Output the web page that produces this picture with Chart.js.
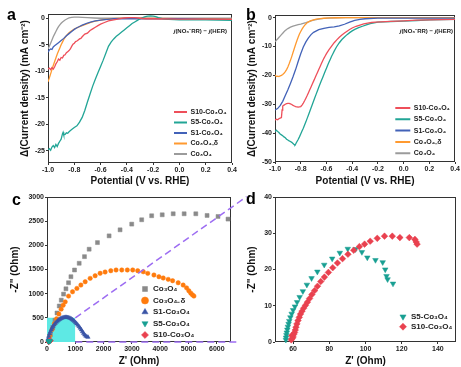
<!DOCTYPE html>
<html><head><meta charset="utf-8">
<script src="https://cdn.jsdelivr.net/npm/chart.js@4.4.1/dist/chart.umd.min.js"></script>
<style>
html,body{margin:0;padding:0;background:#fff;}
#wrap{position:relative;width:461px;height:367px;overflow:hidden;font-family:Arial,"Liberation Sans",sans-serif;}
.pan{position:absolute;}
.lbl{position:absolute;font-weight:bold;font-size:16px;line-height:16px;color:#000;}
.ann{position:absolute;font-weight:bold;font-size:6px;line-height:6px;color:#222;white-space:nowrap;text-align:right;}
</style></head><body>
<div id="wrap">
  <div class="pan" style="left:0;top:190px;width:250px;height:177px"><canvas id="cc"></canvas></div>
  <div class="pan" style="left:228px;top:190px;width:233px;height:177px"><canvas id="cd"></canvas></div>
  <div class="pan" style="left:0;top:0;width:242px;height:190px"><canvas id="ca"></canvas></div>
  <div class="pan" style="left:228px;top:0;width:233px;height:190px"><canvas id="cb"></canvas></div>
  <div class="lbl" style="left:7px;top:7px">a</div>
  <div class="lbl" style="left:246px;top:7px">b</div>
  <div class="lbl" style="left:12px;top:192px">c</div>
  <div class="lbl" style="left:246px;top:191px">d</div>
  <div class="ann" style="right:234px;top:28px"><i>j</i>(NO₃⁻RR) − <i>j</i>(HER)</div>
  <div class="ann" style="right:8px;top:28px"><i>j</i>(NO₃⁻RR) − <i>j</i>(HER)</div>
</div>
<script>
// ---------------- DATA ----------------
const potentialTicks = [-1.0, -0.8, -0.6, -0.4, -0.2, 0.0, 0.2, 0.4];
const aYTicks = [-25, -20, -15, -10, -5, 0];
const bYTicks = [-50, -40, -30, -20, -10, 0];
const cXTicks = [0, 1000, 2000, 3000, 4000, 5000, 6000];
const cYTicks = [0, 500, 1000, 1500, 2000, 2500, 3000];
const dXTicks = [60, 80, 100, 120, 140];
const dYTicks = [0, 10, 20, 30, 40];

const seriesNames = ['S10-Co₃O₄', 'S5-Co₃O₄', 'S1-Co₃O₄', 'Co₃O₄₋δ', 'Co₃O₄'];

// panel a: [potential, delta current density]
const aS10 = [[-1.00,-9.6],[-0.99,-9.4],[-0.98,-9.7],[-0.97,-9.3],[-0.96,-9.6],[-0.95,-9.2],[-0.94,-8.6],[-0.93,-8.2],[-0.92,-7.7],[-0.91,-7.9],[-0.90,-7.4],[-0.89,-7.5],[-0.88,-7.0],[-0.87,-6.9],[-0.86,-6.5],[-0.85,-6.3],[-0.84,-6.1],[-0.83,-5.8],[-0.82,-5.3],[-0.81,-4.9],[-0.80,-4.7],[-0.79,-4.4],[-0.78,-4.3],[-0.77,-4.1],[-0.76,-3.9],[-0.75,-3.8],[-0.74,-3.5],[-0.72,-3.0],[-0.70,-2.8],[-0.68,-2.3],[-0.66,-2.0],[-0.64,-1.7],[-0.62,-1.4],[-0.60,-1.1],[-0.57,-0.8],[-0.54,-0.5],[-0.50,-0.3],[-0.46,-0.1],[-0.42,0.05],[-0.38,0.1],[-0.34,0.1],[-0.30,0.0],[-0.25,-0.1],[-0.20,-0.1],[0.00,-0.15],[0.20,-0.15],[0.40,-0.2]];
const aS5 = [[-1.00,-24.8],[-0.99,-24.6],[-0.98,-24.9],[-0.97,-24.3],[-0.96,-24.0],[-0.95,-24.4],[-0.94,-23.8],[-0.93,-24.2],[-0.92,-23.6],[-0.91,-23.2],[-0.90,-22.8],[-0.89,-21.8],[-0.885,-21.5],[-0.88,-22.0],[-0.87,-21.9],[-0.86,-21.6],[-0.85,-21.7],[-0.84,-21.4],[-0.82,-21.0],[-0.80,-20.6],[-0.78,-20.3],[-0.76,-19.6],[-0.74,-18.7],[-0.72,-17.4],[-0.70,-15.8],[-0.68,-14.3],[-0.66,-12.8],[-0.64,-11.5],[-0.62,-10.3],[-0.60,-9.1],[-0.58,-7.9],[-0.56,-6.6],[-0.54,-5.3],[-0.52,-4.5],[-0.50,-3.9],[-0.48,-3.4],[-0.46,-3.0],[-0.44,-2.6],[-0.42,-2.2],[-0.40,-1.8],[-0.38,-1.4],[-0.36,-1.0],[-0.34,-0.7],[-0.32,-0.4],[-0.30,-0.1],[-0.28,0.1],[-0.26,0.3],[-0.24,0.4],[-0.22,0.45],[-0.20,0.4],[-0.18,0.3],[-0.16,0.1],[-0.12,-0.1],[-0.08,-0.2],[0.00,-0.3],[0.10,-0.3],[0.20,-0.3],[0.30,-0.35],[0.40,-0.4]];
const aS1 = [[-1.00,-6.4],[-0.99,-6.0],[-0.98,-5.8],[-0.97,-5.9],[-0.96,-5.4],[-0.95,-5.2],[-0.94,-5.0],[-0.92,-4.6],[-0.90,-4.2],[-0.88,-3.8],[-0.86,-3.3],[-0.84,-2.9],[-0.82,-2.5],[-0.80,-2.1],[-0.78,-1.8],[-0.76,-1.55],[-0.74,-1.3],[-0.72,-1.1],[-0.70,-0.9],[-0.67,-0.7],[-0.64,-0.5],[-0.60,-0.35],[-0.55,-0.2],[-0.50,-0.1],[-0.40,-0.05],[-0.20,-0.1],[0.00,-0.1],[0.20,-0.15],[0.40,-0.2]];
const aCoD = [[-1.00,-12.0],[-0.99,-11.3],[-0.98,-10.5],[-0.97,-9.7],[-0.96,-8.9],[-0.95,-8.2],[-0.94,-7.5],[-0.93,-6.8],[-0.92,-6.2],[-0.91,-5.6],[-0.90,-5.0],[-0.89,-4.5],[-0.88,-4.0],[-0.87,-3.6],[-0.86,-3.3],[-0.85,-3.0],[-0.84,-2.75],[-0.82,-2.35],[-0.80,-2.05],[-0.78,-1.8],[-0.76,-1.6],[-0.74,-1.4],[-0.72,-1.2],[-0.70,-1.0],[-0.67,-0.75],[-0.64,-0.55],[-0.60,-0.35],[-0.56,-0.2],[-0.52,-0.1],[-0.48,-0.03],[-0.40,0.0],[-0.20,-0.05],[0.00,-0.1],[0.20,-0.1],[0.40,-0.15]];
const aCo = [[-1.00,-5.8],[-0.99,-5.3],[-0.98,-4.7],[-0.97,-4.1],[-0.96,-3.5],[-0.95,-3.0],[-0.94,-2.5],[-0.93,-2.0],[-0.92,-1.6],[-0.91,-1.25],[-0.90,-0.95],[-0.89,-0.7],[-0.88,-0.5],[-0.87,-0.32],[-0.86,-0.18],[-0.85,-0.05],[-0.84,0.05],[-0.82,0.15],[-0.80,0.2],[-0.77,0.2],[-0.74,0.15],[-0.70,0.1],[-0.65,0.05],[-0.60,0.0],[-0.40,0.0],[-0.20,0.0],[0.00,0.0],[0.20,0.0],[0.40,0.0]];

// panel b
const bS10 = [[-1.00,-35.5],[-0.99,-35.2],[-0.98,-35.4],[-0.97,-35.0],[-0.96,-34.8],[-0.95,-34.6],[-0.945,-32.0],[-0.94,-30.6],[-0.93,-30.3],[-0.92,-30.0],[-0.91,-29.8],[-0.90,-29.7],[-0.89,-29.7],[-0.88,-29.9],[-0.87,-30.1],[-0.86,-30.4],[-0.85,-30.6],[-0.84,-30.8],[-0.83,-30.9],[-0.82,-31.0],[-0.81,-30.9],[-0.80,-30.8],[-0.79,-30.3],[-0.78,-29.6],[-0.77,-28.8],[-0.76,-27.9],[-0.75,-27.0],[-0.74,-26.0],[-0.73,-25.0],[-0.72,-24.0],[-0.71,-23.0],[-0.70,-22.0],[-0.69,-21.0],[-0.68,-20.0],[-0.67,-19.0],[-0.66,-18.0],[-0.65,-17.0],[-0.64,-16.0],[-0.63,-15.0],[-0.62,-14.1],[-0.61,-13.3],[-0.60,-12.5],[-0.59,-11.8],[-0.58,-11.1],[-0.57,-10.5],[-0.56,-9.9],[-0.55,-9.3],[-0.54,-8.7],[-0.52,-7.7],[-0.50,-6.8],[-0.48,-6.0],[-0.46,-5.3],[-0.44,-4.7],[-0.42,-4.1],[-0.40,-3.6],[-0.37,-3.0],[-0.34,-2.6],[-0.31,-2.2],[-0.28,-1.9],[-0.25,-1.7],[-0.22,-1.55],[-0.18,-1.45],[-0.10,-1.3],[0.00,-1.1],[0.10,-0.9],[0.20,-0.8],[0.30,-0.7],[0.40,-0.6]];
const bS5 = [[-1.00,-39.5],[-0.99,-39.0],[-0.98,-39.4],[-0.97,-39.8],[-0.96,-40.3],[-0.95,-40.6],[-0.94,-40.9],[-0.93,-41.3],[-0.92,-41.6],[-0.91,-42.1],[-0.90,-42.4],[-0.89,-42.7],[-0.88,-42.9],[-0.87,-43.2],[-0.86,-43.6],[-0.85,-44.0],[-0.845,-44.1],[-0.84,-43.8],[-0.83,-43.0],[-0.82,-42.2],[-0.81,-41.3],[-0.80,-40.3],[-0.79,-39.3],[-0.78,-38.3],[-0.77,-37.2],[-0.76,-36.1],[-0.75,-34.9],[-0.74,-33.7],[-0.73,-32.5],[-0.72,-31.3],[-0.71,-30.1],[-0.70,-28.9],[-0.69,-27.7],[-0.68,-26.5],[-0.67,-25.3],[-0.66,-24.1],[-0.65,-23.0],[-0.64,-21.9],[-0.63,-20.8],[-0.62,-19.7],[-0.61,-18.6],[-0.60,-17.5],[-0.59,-16.4],[-0.58,-15.4],[-0.57,-14.4],[-0.56,-13.4],[-0.55,-12.5],[-0.54,-11.6],[-0.53,-10.8],[-0.52,-10.0],[-0.50,-8.7],[-0.48,-7.6],[-0.46,-6.7],[-0.44,-5.9],[-0.42,-5.2],[-0.40,-4.6],[-0.38,-4.1],[-0.35,-3.5],[-0.32,-3.0],[-0.29,-2.5],[-0.26,-2.1],[-0.23,-1.8],[-0.20,-1.6],[-0.15,-1.45],[-0.10,-1.35],[0.00,-1.2],[0.10,-1.0],[0.20,-0.8],[0.30,-0.7],[0.40,-0.6]];
const bS1 = [[-1.00,-32.0],[-0.98,-31.5],[-0.96,-30.5],[-0.94,-29.0],[-0.92,-27.0],[-0.90,-25.0],[-0.88,-22.8],[-0.86,-20.5],[-0.84,-18.0],[-0.82,-15.2],[-0.80,-12.5],[-0.78,-10.2],[-0.76,-8.4],[-0.74,-7.0],[-0.72,-5.9],[-0.70,-5.1],[-0.66,-4.2],[-0.62,-3.7],[-0.58,-3.4],[-0.54,-3.2],[-0.50,-2.9],[-0.46,-2.3],[-0.42,-1.6],[-0.38,-1.0],[-0.34,-0.6],[-0.30,-0.4],[-0.20,-0.2],[0.00,-0.2],[0.40,-0.2]];
const bCoD = [[-1.00,-19.8],[-0.99,-20.4],[-0.98,-20.3],[-0.97,-20.4],[-0.96,-20.2],[-0.95,-20.0],[-0.94,-19.7],[-0.93,-19.3],[-0.92,-18.7],[-0.91,-18.0],[-0.90,-17.1],[-0.89,-16.0],[-0.88,-14.8],[-0.87,-13.5],[-0.86,-12.1],[-0.85,-10.7],[-0.84,-9.3],[-0.83,-8.0],[-0.82,-6.8],[-0.81,-5.7],[-0.80,-4.8],[-0.79,-4.0],[-0.78,-3.3],[-0.77,-2.7],[-0.76,-2.2],[-0.75,-1.8],[-0.74,-1.5],[-0.72,-1.05],[-0.70,-0.75],[-0.68,-0.55],[-0.65,-0.35],[-0.62,-0.22],[-0.58,-0.12],[-0.52,-0.05],[-0.45,0.0],[0.00,0.0],[0.40,0.0]];
const bCo = [[-1.00,-8.4],[-0.99,-7.9],[-0.98,-7.4],[-0.97,-6.9],[-0.96,-6.4],[-0.95,-5.9],[-0.94,-5.4],[-0.93,-4.9],[-0.92,-4.5],[-0.91,-4.1],[-0.90,-3.8],[-0.88,-3.3],[-0.86,-2.95],[-0.84,-2.7],[-0.82,-2.45],[-0.80,-2.25],[-0.78,-2.0],[-0.76,-1.75],[-0.74,-1.45],[-0.72,-1.15],[-0.70,-0.9],[-0.68,-0.7],[-0.65,-0.45],[-0.62,-0.28],[-0.58,-0.15],[-0.52,-0.05],[-0.45,0.0],[0.00,0.0],[0.40,0.0]];

// panel c: Nyquist [Z', -Z'']
const cCo = [[120,150],[200,300],[280,450],[352,600],[433,745],[504,866],[585,991],[669,1101],[761,1226],[845,1351],[972,1490],[1137,1629],[1324,1766],[1489,1920],[1782,2057],[2194,2196],[2581,2321],[2993,2439],[3345,2529],[3697,2612],[4070,2632],[4458,2653],[4845,2653],[5257,2653],[5655,2618],[6042,2597],[6394,2543]];
const cCoD = [[100,130],[180,260],[260,380],[340,480],[420,580],[500,680],[570,760],[644,831],[761,950],[902,1039],[1056,1109],[1197,1178],[1349,1247],[1525,1317],[1701,1371],[1877,1421],[2053,1448],[2254,1475],[2440,1490],[2641,1490],[2838,1490],[3028,1490],[3204,1475],[3401,1454],[3560,1420],[3778,1386],[3954,1351],[4106,1324],[4282,1296],[4437,1268],[4634,1226],[4810,1178],[4930,1120],[5010,1060],[5080,1010],[5140,975],[5190,950]];
const cS1 = [[30,60],[60,120],[90,170],[120,215],[150,255],[180,290],[215,325],[250,355],[290,385],[330,412],[370,435],[410,455],[450,472],[490,486],[530,497],[570,505],[610,510],[650,512],[690,512],[730,509],[770,503],[810,494],[850,482],[890,466],[930,448],[970,427],[1010,404],[1050,378],[1090,350],[1130,320],[1170,288],[1210,254],[1250,218],[1290,182],[1330,148],[1370,124],[1410,108],[1450,100]];
const zoomBox = [[0,500],[1000,500]];
const guideUpper = [[1000,500],[7050,3006]];
const guideLower = [[1000,0],[6800,0]];

// panel d (also shown tiny in panel c)
const dS5 = [[56.0,0.6],[56.1,1.2],[56.3,1.9],[56.5,2.6],[56.8,3.4],[57.1,4.2],[57.5,5.0],[57.9,5.8],[58.5,6.8],[59.2,7.8],[60.0,8.8],[61.0,9.8],[62.2,11.0],[63.6,12.4],[65.4,14.0],[67.6,15.8],[70.2,17.6],[73.4,19.4],[77.2,21.3],[81.6,23.0],[85.8,24.6],[90.2,25.7],[94.5,25.6],[98.0,24.8],[101.0,23.3],[105.5,22.6],[109.5,22.0],[110.9,20.0],[111.6,18.2],[112.2,17.3],[115.2,16.1]];
const dS10 = [[59.0,0.6],[59.5,1.0],[60.0,1.4],[59.3,1.8],[60.3,2.1],[60.8,2.6],[61.2,3.3],[61.6,4.1],[62.1,5.0],[62.7,5.9],[63.4,6.8],[64.1,7.7],[64.9,8.5],[65.8,9.3],[66.8,10.1],[67.9,11.0],[69.1,12.0],[70.4,13.1],[71.9,14.2],[73.5,15.4],[75.3,16.7],[77.3,17.9],[79.5,19.2],[81.9,20.5],[84.5,21.8],[87.3,23.0],[90.3,24.2],[93.5,25.3],[96.6,26.3],[99.5,27.0],[102.6,27.8],[106.5,28.6],[110.5,29.2],[114.8,29.2],[119.0,28.8],[124.2,28.8],[127.3,28.3],[128.0,27.6],[128.5,27.0]];

// ---------------- STYLE ----------------
const FONT = 'Arial, "Liberation Sans", sans-serif';
Chart.defaults.font.family = FONT;
Chart.defaults.color = '#222';
const C = {red:'#ee4f5a', teal:'#22a596', blue:'#4262b8', orange:'#ff9a30', gray:'#9b9b9b',
           mgray:'#8a8a8a', morange:'#ff7b0d', mblue:'#3a55a6', mteal:'#189f92', mred:'#e9414f',
           cyan:'#5ee9e4', purple:'#9d6df2'};

const framePlugin = {id:'frame', beforeDatasetsDraw(chart){
  const {ctx, chartArea:a} = chart;
  ctx.save(); ctx.strokeStyle = '#333'; ctx.lineWidth = 1;
  ctx.strokeRect(Math.round(a.left)+0.5, Math.round(a.top)+0.5, Math.round(a.right-a.left)-1, Math.round(a.bottom-a.top)-1);
  ctx.restore();
}};
const legendPos = {id:'legendPos', afterLayout(chart, args, opts){
  const lg = chart.legend; if (!lg || !opts || opts.x == null) return;
  lg.left = opts.x; lg.top = opts.y; lg.right = chart.width; lg.bottom = chart.height;
}};

function axis(o){
  return {
    type:'linear', position:o.pos, min:o.min, max:o.max,
    afterBuildTicks: s => { s.ticks = o.ticks.map(v => ({value:v})); },
    afterFit: s => { if (o.pos === 'left') s.width = o.size; else s.height = o.size; },
    ticks:{font:{size:7, weight:'bold'}, color:'#222', padding:1, maxRotation:0, autoSkip:false,
           callback: o.fmt || (v => String(v))},
    grid:{display:true, drawOnChartArea:false, tickLength:2, color:'#333'},
    border:{display:false},
    title:{display:true, text:o.title, font:{size:10, weight:'bold'}, color:'#111', padding:o.tpad}
  };
}
function lineDs(label, data, color){
  return {type:'line', label, data, borderColor:color, backgroundColor:color, borderWidth:1.3,
          pointRadius:0, pointBorderWidth:2, tension:0, fill:false};
}
function markDs(label, data, color, style, r, rot, order){
  return {type:'scatter', label, data, borderColor:color, backgroundColor:color, pointStyle:style,
          pointRadius:r, pointBorderWidth:0.5, pointRotation:rot||0, showLine:false, order:order, clip:false};
}
const fmt1 = v => v.toFixed(1);
const yTitle = 'Δ(Current density) (mA cm⁻²)';
const baseOpts = {responsive:true, maintainAspectRatio:false, animation:false, events:[], devicePixelRatio:1};
function lineLegend(x, y, pad, lw){
  return {
    legend:{display:true, position:'chartArea', align:'start',
      labels:{usePointStyle:true, pointStyle:'line', pointStyleWidth:lw, boxHeight:7,
              font:{size:7, weight:'bold'}, color:'#222', padding:pad}},
    legendPos:{x, y}, tooltip:{enabled:false}
  };
}
function markLegend(x, y, pad){
  return {
    legend:{display:true, position:'chartArea', align:'start',
      labels:{usePointStyle:true, boxHeight:5, font:{size:8, weight:'bold'}, color:'#222', padding:pad,
              filter: it => !it.text.startsWith('_'), sort:(a,b) => a.datasetIndex - b.datasetIndex}},
    legendPos:{x, y}, tooltip:{enabled:false}
  };
}

// ---------------- PANEL a ----------------
new Chart(document.getElementById('ca'), {
  type:'line',
  data:{datasets:[lineDs(seriesNames[0], aS10, C.red), lineDs(seriesNames[1], aS5, C.teal),
                  lineDs(seriesNames[2], aS1, C.blue), lineDs(seriesNames[3], aCoD, C.orange),
                  lineDs(seriesNames[4], aCo, C.gray)]},
  options:Object.assign({}, baseOpts, {
    layout:{padding:{left:0, top:14, right:10, bottom:0}},
    scales:{
      x: axis({pos:'bottom', min:-1.0, max:0.4, ticks:potentialTicks, size:27, fmt:fmt1,
               title:'Potential (V vs. RHE)', tpad:{top:0, bottom:3}}),
      y: axis({pos:'left', min:-27.3, max:0.8, ticks:aYTicks, size:48,
               title:yTitle, tpad:{top:19, bottom:0}})
    },
    plugins: lineLegend(170.5, 105, 3.5, 13)
  }),
  plugins:[framePlugin, legendPos]
});

// ---------------- PANEL b ----------------
new Chart(document.getElementById('cb'), {
  type:'line',
  data:{datasets:[lineDs(seriesNames[0], bS10, C.red), lineDs(seriesNames[1], bS5, C.teal),
                  lineDs(seriesNames[2], bS1, C.blue), lineDs(seriesNames[3], bCoD, C.orange),
                  lineDs(seriesNames[4], bCo, C.gray)]},
  options:Object.assign({}, baseOpts, {
    layout:{padding:{left:0, top:15, right:5, bottom:0}},
    scales:{
      x: axis({pos:'bottom', min:-1.0, max:0.4, ticks:potentialTicks, size:28, fmt:fmt1,
               title:'Potential (V vs. RHE)', tpad:{top:0, bottom:2.3}}),
      y: axis({pos:'left', min:-50, max:0.9, ticks:bYTicks, size:47,
               title:yTitle, tpad:{top:18, bottom:0}})
    },
    plugins: lineLegend(163, 100.2, 4.3, 15)
  }),
  plugins:[framePlugin, legendPos]
});

// ---------------- PANEL c ----------------
new Chart(document.getElementById('cc'), {
  type:'scatter',
  data:{datasets:[
    markDs('Co₃O₄', cCo, C.mgray, 'rect', 2.8, 0, 4),
    markDs('Co₃O₄₋δ', cCoD, C.morange, 'circle', 2.2, 0, 3),
    markDs('S1-Co₃O₄', cS1, C.mblue, 'triangle', 2.4, 0, 2),
    markDs('S5-Co₃O₄', dS5, C.mteal, 'triangle', 2.2, 180, 0),
    markDs('S10-Co₃O₄', dS10, C.mred, 'rectRot', 2.4, 0, 0),
    {type:'line', label:'_box', data:zoomBox, borderWidth:0, pointRadius:0, fill:'origin',
     backgroundColor:C.cyan, borderColor:C.cyan, order:10},
    {type:'line', label:'_g1', data:guideUpper, borderWidth:1.5, borderDash:[7,4], pointRadius:0,
     borderColor:C.purple, fill:false, clip:false, order:1},
    {type:'line', label:'_g2', data:guideLower, borderWidth:1.5, borderDash:[7,4], pointRadius:0,
     borderColor:C.purple, fill:false, clip:false, order:1}
  ]},
  options:Object.assign({}, baseOpts, {
    layout:{padding:{left:0, top:7, right:19, bottom:0}},
    scales:{
      x: axis({pos:'bottom', min:0, max:6500, ticks:cXTicks, size:25,
               title:"Z' (Ohm)", tpad:{top:0, bottom:0}}),
      y: axis({pos:'left', min:0, max:3000, ticks:cYTicks, size:47,
               title:'-Z" (Ohm)', tpad:{top:9, bottom:0}})
    },
    plugins: markLegend(137.5, 91.5, 3.5)
  }),
  plugins:[framePlugin, legendPos]
});

// ---------------- PANEL d ----------------
new Chart(document.getElementById('cd'), {
  type:'scatter',
  data:{datasets:[
    markDs('S5-Co₃O₄', dS5, C.mteal, 'triangle', 3.2, 180, 1),
    markDs('S10-Co₃O₄', dS10, C.mred, 'rectRot', 3.3, 0, 0)
  ]},
  options:Object.assign({}, baseOpts, {
    layout:{padding:{left:0, top:7, right:5, bottom:0}},
    scales:{
      x: axis({pos:'bottom', min:50, max:150, ticks:dXTicks, size:25,
               title:"Z' (Ohm)", tpad:{top:0, bottom:0}}),
      y: axis({pos:'left', min:0, max:40, ticks:dYTicks, size:47,
               title:'-Z" (Ohm)', tpad:{top:18, bottom:0}})
    },
    plugins: markLegend(169, 120.7, 2)
  }),
  plugins:[framePlugin, legendPos]
});
</script>
</body></html>
